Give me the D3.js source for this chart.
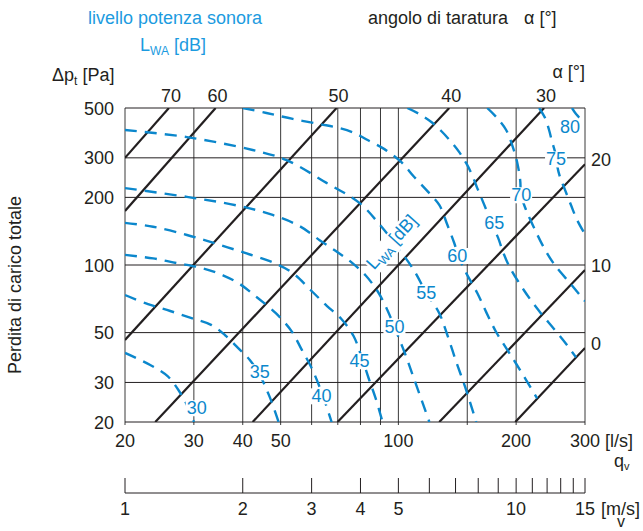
<!DOCTYPE html>
<html><head><meta charset="utf-8">
<script src="https://cdn.jsdelivr.net/npm/d3@7"></script>
<style>
body{margin:0;background:#fff}
text{font-family:"Liberation Sans",Arial,Helvetica,sans-serif;}
</style>
</head><body>
<svg id="c" width="643" height="531"></svg>
<script>
// ---------- data ----------
const qGrid = [20,30,40,50,60,70,80,90,100,150,200,300];
const qTickLabels = [20,30,40,50,100,200,300];
const pGrid = [20,30,50,100,200,300,500];
const pTickLabels = [20,30,50,100,200,300,500];
const vTicks = [1,2,3,4,5,6,7,8,9,10,11,12,13,14,15];
const vTickLabels = [1,2,3,4,5,10,15];

// setting-angle lines (alpha), each from [q,Δp] to [q,Δp]
const angleValues = [70,60,50,40,30,20,10,0];
const angleFrom = [[20,300],[20,174],[20,46.4],[23.9,20],[42.4,20],[69.9,20],[127.2,20],[199,20]];
const angleTo   = [[25.9,500],[34.1,500],[69.5,500],[134.9,500],[235.8,500],[300,281],[300,95],[300,42.7]];

// sound power level curves L_WA [dB], points [q, Δp]
const lwaLevels = [30,35,40,45,50,55,60,65,70,75,80];
const lwa30 = [[20,40.6],[23.2,35.9],[25.7,32.0],[27.6,27.2],[28.8,23.8],[30,20]];
const lwa35 = [[20,73.5],[22.9,67],[26.1,62.4],[29.6,58],[33.3,54],[36,48.8],[39.3,42],[41.7,37.8],[44.2,32.4],[46.9,25.8],[49.4,20]];
const lwa40 = [[20,111],[23.6,107],[27.1,102],[31.4,97],[35.6,90],[39.3,82.3],[43.7,71.3],[48.6,61],[53.3,50.8],[56.6,42],[60,34.8],[63.6,27.2],[67.5,20]];
const lwa45 = [[20,154],[23.6,148],[28.8,136],[33.9,125],[40,114],[46.9,104],[51.2,97],[54.6,90],[60,76.6],[65.5,66],[71.5,57.5],[76.8,48.3],[80.5,39],[83.9,31.4],[87.4,25.6],[91.1,20]];
const lwa50 = [[20,220],[28.8,201],[39.3,183],[47.7,167],[55.9,149],[62.9,129],[69.9,114],[76.3,102],[82.4,90],[88.4,76.6],[93.2,64.4],[97.7,53],[103.6,41],[109.9,30.8],[120,20]];
const lwa55 = [[20,399],[28.8,371],[42.4,325],[51.8,293],[65.5,232],[79.5,189],[89.4,152],[100.6,117],[109.9,94],[117.9,75],[127.2,61],[133.4,48.8],[140.6,37],[148.2,28.6],[158.1,20]];
const lwa60 = [[40,500],[46,475],[53.7,447],[62.9,424],[70.7,407],[77.2,387],[83.4,360],[92.1,328],[101.8,287],[109.2,249],[119.3,211],[127.2,185],[133.4,151],[139,125],[143.1,107],[149.1,92],[159.1,75],[167.7,61.7],[177.8,50.3],[189.7,42],[198.8,37],[212,30.8],[226.3,25.5]];
const lwa65 = [[105.4,500],[113.1,470],[121.4,433],[128.7,395],[136.5,353],[143.1,318],[149.1,284],[154.4,251],[159.1,220],[163.8,195],[168.7,172],[173.7,151],[179.9,132],[185.3,114],[191.9,99],[209.6,77],[229,62.4],[250,51.9],[269.8,44],[284.6,38.8]];
const lwa70 = [[168.7,500],[178.9,451],[188.6,399],[195.4,342],[201.2,287],[204.8,239],[206,205],[212,176],[222.4,146],[235.8,119],[250,101],[277.9,81],[300,69]];
const lwa75 = [[229,500],[237.2,451],[242.8,399],[247.2,353],[251.6,318],[254.4,279],[259,246],[266.7,216],[276.2,185],[286.2,159],[300,137]];
const lwa80 = [[277.9,500],[284.6,470],[291.2,451],[300,442]];
const lwaCurves = [lwa30,lwa35,lwa40,lwa45,lwa50,lwa55,lwa60,lwa65,lwa70,lwa75,lwa80];
// label anchor points on each curve [q, Δp]
const lwaLabelAt = [[30.5,23.1],[44.2,33.4],[63.6,26.1],[79.5,37.4],[97.7,53],[117.9,75],[141.4,110],[175.8,154],[206,205],[253,296],[274.6,411]];
const lwaTitleAt = [96,127];

// ---------- drawing ----------
const svg = d3.select("#c");
const ink = "#231f20", blue = "#0b87cc", blueTitle = "#1c9be0";
const FS = 18;

const x = d3.scaleLog().domain([20,300]).range([125,585]);
const y = d3.scaleLog().domain([20,500]).range([422,108]);
const xv = d3.scaleLog().domain([1,15]).range([125,585]);

svg.append("defs").append("clipPath").attr("id","plot")
  .append("rect").attr("x",x(20)).attr("y",y(500)).attr("width",x(300)-x(20)).attr("height",y(20)-y(500));

// grid
const grid = svg.append("g").attr("stroke",ink).attr("stroke-width",1);
grid.selectAll("line.v").data(qGrid).join("line").attr("class","v")
  .attr("x1",d=>x(d)).attr("x2",d=>x(d)).attr("y1",y(500)).attr("y2",y(20)+3).attr("stroke","#3a3a3a");
grid.selectAll("line.h").data(pGrid).join("line").attr("class","h")
  .attr("x1",x(20)).attr("x2",x(300)).attr("y1",d=>y(d)).attr("y2",d=>y(d));

// angle lines
const plotG = svg.append("g").attr("clip-path","url(#plot)");
const lineGen = d3.line().x(d=>x(d[0])).y(d=>y(d[1]));
plotG.selectAll("path.ang").data(angleValues).join("path").attr("class","ang")
  .attr("d",(d,i)=>lineGen([angleFrom[i],angleTo[i]]))
  .attr("stroke",ink).attr("stroke-width",2.2).attr("fill","none");

// angle labels
const angG = svg.append("g").attr("font-size",FS).attr("fill",ink);
angleValues.forEach((a,i)=>{
  const e = angleTo[i];
  if (e[1] >= 500) {
    angG.append("text").attr("x",x(e[0])+2).attr("y",y(500)-6).attr("text-anchor","middle").text(a);
  } else {
    angG.append("text").attr("x",591).attr("y",y(e[1])+2).attr("text-anchor","start").text(a);
  }
});

// sound power curves
const curveGen = d3.line().x(d=>x(d[0])).y(d=>y(d[1])).curve(d3.curveCatmullRom.alpha(0.5));
plotG.selectAll("path.lwa").data(lwaCurves).join("path").attr("class","lwa")
  .attr("d",d=>curveGen(d)).attr("fill","none").attr("stroke",blue)
  .attr("stroke-width",2.4).attr("stroke-dasharray","12,8");

// labels with white background
function boxedText(g, str){
  const t = g.append("text").attr("text-anchor","middle").attr("dy","0.35em")
    .attr("font-size",FS).attr("fill",blue).text(str);
  const b = t.node().getBBox();
  g.insert("rect","text").attr("x",b.x-1).attr("y",b.y+2).attr("width",b.width+2).attr("height",b.height-4).attr("fill","#fff");
  return t;
}
lwaLevels.forEach((L,i)=>{
  const g = svg.append("g").attr("transform",`translate(${x(lwaLabelAt[i][0])},${y(lwaLabelAt[i][1])})`);
  boxedText(g, L);
});

// rotated L_WA [dB] label
{
  const g = svg.append("g").attr("transform",`translate(${x(lwaTitleAt[0])},${y(lwaTitleAt[1])}) rotate(-48)`);
  const t = g.append("text").attr("text-anchor","middle").attr("dy","0.35em").attr("font-size",FS).attr("fill",blue);
  t.append("tspan").text("L");
  t.append("tspan").attr("font-size",12).attr("dy",4).text("WA");
  t.append("tspan").attr("dy",-4).text(" [dB]");
  const b = t.node().getBBox();
  g.insert("rect","text").attr("x",b.x-1).attr("y",b.y+1).attr("width",b.width+2).attr("height",b.height-2).attr("fill","#fff");
}

// axis tick labels
const ax = svg.append("g").attr("font-size",FS).attr("fill",ink);
ax.selectAll("text.yl").data(pTickLabels).join("text").attr("class","yl")
  .attr("x",114).attr("y",d=>y(d)+6.5).attr("text-anchor","end").text(d=>d);
ax.selectAll("text.xl").data(qTickLabels).join("text").attr("class","xl")
  .attr("x",d=>x(d)).attr("y",447).attr("text-anchor","middle").text(d=>d);
ax.append("text").attr("x",605).attr("y",447).text("[l/s]");
{
  const t = ax.append("text").attr("x",614).attr("y",467);
  t.append("tspan").text("q");
  t.append("tspan").attr("font-size",11).attr("dy",3).text("v");
}

// velocity axis
const vel = svg.append("g").attr("stroke",ink).attr("stroke-width",1);
vel.append("line").attr("x1",xv(1)).attr("x2",xv(15)).attr("y1",493).attr("y2",493);
vel.selectAll("line.vt").data(vTicks).join("line").attr("class","vt")
  .attr("x1",d=>xv(d)).attr("x2",d=>xv(d)).attr("y1",478).attr("y2",493);
ax.selectAll("text.vl").data(vTickLabels).join("text").attr("class","vl")
  .attr("x",d=>xv(d)).attr("y",515).attr("text-anchor","middle").text(d=>d);
ax.append("text").attr("x",601).attr("y",515).text("[m/s]");
ax.append("text").attr("x",617).attr("y",527).attr("font-size",16).text("v");

// axis titles
{
  const t = ax.append("text").attr("x",52).attr("y",81);
  t.append("tspan").text("\u0394p");
  t.append("tspan").attr("font-size",12).attr("dy",4).text("t");
  t.append("tspan").attr("dy",-4).text(" [Pa]");
}
ax.append("text").attr("x",585).attr("y",78).attr("text-anchor","end").text("\u03b1 [\u00b0]");
ax.append("text").attr("transform","translate(21,285) rotate(-90)").attr("text-anchor","middle").text("Perdita di carico totale");

// top titles
svg.append("text").attr("x",175).attr("y",24).attr("text-anchor","middle").attr("font-size",FS).attr("fill",blueTitle)
  .text("livello potenza sonora");
{
  const t = svg.append("text").attr("x",140).attr("y",51).attr("font-size",FS).attr("fill",blueTitle);
  t.append("tspan").text("L");
  t.append("tspan").attr("font-size",12).attr("dy",4).text("WA");
  t.append("tspan").attr("dy",-4).text(" [dB]");
}
{
  const t = svg.append("text").attr("x",368).attr("y",24).attr("font-size",FS).attr("fill",ink);
  t.append("tspan").text("angolo di taratura");
  t.append("tspan").attr("x",524).text("\u03b1 [\u00b0]");
}
</script>
</body></html>
